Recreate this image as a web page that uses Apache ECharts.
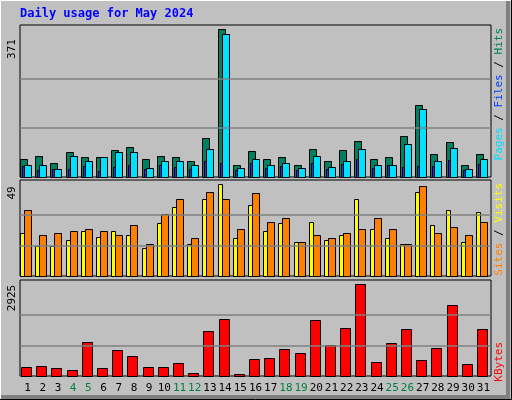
<!DOCTYPE html>
<html><head><meta charset="utf-8">
<script src="https://cdn.jsdelivr.net/npm/echarts@6/dist/echarts.min.js"></script>
<style>html,body{margin:0;padding:0;background:#c0c0c0}#c{width:512px;height:400px}</style>
</head><body><div id="c"></div>
<script>
const days = ['1','2','3','4','5','6','7','8','9','10','11','12','13','14','15','16','17','18','19','20','21','22','23','24','25','26','27','28','29','30','31'];
const weekend = ['4','5','11','12','18','19','25','26'];
const hits  = [46,54,36,64,49,51,69,76,46,54,51,39,99,371,31,66,46,51,31,71,39,69,91,46,49,102,182,59,89,31,59];
const files = [29,31,21,54,41,49,64,64,23,41,39,31,71,358,23,44,31,36,23,54,26,39,71,31,29,84,170,41,74,21,44];
const pages = [27,17,19,21,27,14,24,29,19,29,24,19,39,36,17,34,22,27,17,34,19,32,46,22,29,24,27,27,42,18,32];
const sites  = [23,16,16,19,24,21,24,22,15,28,37,17,41,49,20,38,24,28,18,29,19,22,41,25,20,17,45,27,35,18,34];
const visits = [35,22,23,24,25,24,22,27,17,33,41,20,45,41,25,44,29,31,18,22,20,23,25,31,25,17,48,23,26,22,29];
const kbytes = [299,331,267,203,1067,267,811,651,299,299,427,107,1419,1803,75,555,587,843,747,1771,971,1515,2925,459,1035,1483,523,875,2251,395,1483];
const maxLabels = ['371','49','2925'];

const chart = echarts.init(document.getElementById('c'));
function rend(o0,o1,color){
  return function(params, api){
    const c = api.coord([api.value(0), api.value(1)]);
    const b = api.coord([api.value(0), 0]);
    return {type:'rect', shape:{x:Math.round(c[0]+o0)+0.5, y:Math.round(c[1])+0.5, width:o1-o0, height:Math.round(b[1]-c[1])},
      style:{fill:color, stroke:'#000', lineWidth:1}};
  };
}
function ser(arr, gi, o0, o1, color, z){
  return {type:'custom', xAxisIndex:gi, yAxisIndex:gi, renderItem:rend(o0,o1,color), z:z,
    data:arr.map((v,i)=>[i,v]), encode:{x:0,y:1}};
}
function gl(gi, max){
  return {type:'line', xAxisIndex:gi, yAxisIndex:gi, data:[], silent:true,
    markLine:{silent:true, symbol:'none', label:{show:false}, lineStyle:{color:'#808080', type:'solid', width:1.5},
      data:[{yAxis:max/3},{yAxis:max*2/3}]}};
}
const grids = [
  {left:20, right:21, top:25, height:152},
  {left:20, right:21, top:180, height:96},
  {left:20, right:21, top:280, height:96}
];
const maxes = [371*152/147.7, 49*96/92, 2925*96/92];
const vals = [371,49,2925];
const mono = 'DejaVu Sans Mono';
chart.setOption({
  backgroundColor:'#c0c0c0',
  animation:false,
  grid: grids.map(g=>Object.assign({show:true, backgroundColor:'#c0c0c0', borderColor:'#000', borderWidth:1},g)),
  xAxis: [0,1,2].map(i=>({type:'category', gridIndex:i, data:days, boundaryGap:true,
    axisLine:{show:false}, axisTick:{show:false}, splitLine:{show:false},
    axisLabel:{show:i===2, interval:0, hideOverlap:false, margin:7, fontFamily:mono, fontSize:11,
      color:(v)=>weekend.includes(v)?'#008040':'#000'}})),
  yAxis: [0,1,2].map(i=>({type:'value', gridIndex:i, min:0, max:maxes[i],
    axisLine:{show:false}, axisTick:{show:false}, splitLine:{show:false}, axisLabel:{show:false}})),
  series:[
    gl(0,vals[0]), gl(1,vals[1]), gl(2,vals[2]),
    ser(hits,0,-7.5,-0.5,'#008060',3),
    ser(files,0,-3.5,3.5,'#00e0ff',4),
    ser(pages,0,-5.5,-3.5,'#0040ff',5),
    ser(sites,1,-7.5,-3.5,'#ffff00',3),
    ser(visits,1,-3.5,3.5,'#ff8000',4),
    ser(kbytes,2,-6.5,3.5,'#ff0000',3)
  ],
  graphic:[
    {type:'polyline', shape:{points:[[0.5,399.5],[0.5,0.5],[511.5,0.5]]}, style:{stroke:'#fff', lineWidth:1, fill:null}},
    {type:'polyline', shape:{points:[[1,397],[508,397],[508,1]]}, style:{stroke:'#808080', lineWidth:4, fill:null}},
    {type:'polyline', shape:{points:[[0,399.5],[511.5,399.5],[511.5,0]]}, style:{stroke:'#000', lineWidth:1, fill:null}},
    {type:'text', left:20, top:8, style:{text:'Daily usage for May 2024', fill:'#0000ff', font:'bold 12px '+mono}},
    {type:'text', x:7, y:49, rotation:Math.PI/2, style:{text:maxLabels[0], fill:'#000', font:'11px '+mono, align:'center', verticalAlign:'top'}},
    {type:'text', x:7, y:193, rotation:Math.PI/2, style:{text:maxLabels[1], fill:'#000', font:'11px '+mono, align:'center', verticalAlign:'top'}},
    {type:'text', x:7, y:298, rotation:Math.PI/2, style:{text:maxLabels[2], fill:'#000', font:'11px '+mono, align:'center', verticalAlign:'top'}},
    {type:'text', x:494, y:28, rotation:Math.PI/2, style:{text:'{p|Pages} / {f|Files} / {h|Hits}', align:'right', verticalAlign:'top', fill:'#000', font:'11px '+mono,
      rich:{p:{fill:'#00e0ff', font:'11px '+mono}, f:{fill:'#0040ff', font:'11px '+mono}, h:{fill:'#008060', font:'11px '+mono}}}},
    {type:'text', x:494, y:183, rotation:Math.PI/2, style:{text:'{s|Sites} / {v|Visits}', align:'right', verticalAlign:'top', fill:'#000', font:'11px '+mono,
      rich:{s:{fill:'#ff8000', font:'11px '+mono}, v:{fill:'#ffff00', font:'11px '+mono}}}},
    {type:'text', x:494, y:342, rotation:Math.PI/2, style:{text:'KBytes', align:'right', verticalAlign:'top', fill:'#ff0000', font:'11px '+mono}}
  ]
});
</script></body></html>
